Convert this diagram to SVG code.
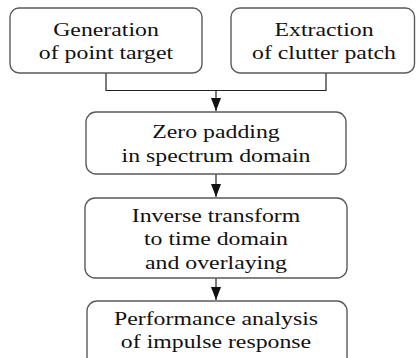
<svg xmlns="http://www.w3.org/2000/svg" width="416" height="358" viewBox="0 0 416 358" font-family="'Liberation Serif', 'DejaVu Serif', serif">
  <style>
    .box { fill: #ffffff; stroke: #5a5a5a; stroke-width: 1.4; }
    .lbl { font-family: 'Liberation Serif', 'DejaVu Serif', serif; font-size: 19.5px; fill: #111111; text-anchor: middle; }
    .wire { fill: none; stroke: #222222; stroke-width: 1.2; }
  </style>
  <defs>
    <marker id="tri" viewBox="0 0 13 10" refX="13" refY="5" markerWidth="13" markerHeight="10" orient="auto" markerUnits="userSpaceOnUse">
      <path d="M0,0 L13,5 L0,10 Z" fill="#111111"/>
    </marker>
  </defs>
  <rect width="416" height="358" fill="#ffffff"/>

  <!-- merge of the two source boxes, then the straight vertical chain -->
  <g id="connectors">
    <path class="wire" d="M106,73 V90.5 H326 V73"/>
    <path class="wire" d="M216,90.5 V111" marker-end="url(#tri)"/>
    <path class="wire" d="M216,174 V197" marker-end="url(#tri)"/>
    <path class="wire" d="M216,278 V300" marker-end="url(#tri)"/>
  </g>

  <g id="gen-point-target">
    <rect class="box" x="10" y="8" width="192" height="65" rx="9"/>
    <text class="lbl" transform="translate(106,35.5) scale(1.22,1)">Generation</text>
    <text class="lbl" transform="translate(106,59) scale(1.22,1)">of point target</text>
  </g>

  <g id="extract-clutter">
    <rect class="box" x="231" y="8" width="183.5" height="65" rx="9"/>
    <text class="lbl" transform="translate(324,35.5) scale(1.22,1)">Extraction</text>
    <text class="lbl" transform="translate(324,59) scale(1.22,1)">of clutter patch</text>
  </g>

  <g id="zero-padding">
    <rect class="box" x="86" y="112" width="260" height="62" rx="10"/>
    <text class="lbl" transform="translate(216,138) scale(1.22,1)">Zero padding</text>
    <text class="lbl" transform="translate(216,161.5) scale(1.22,1)">in spectrum domain</text>
  </g>

  <g id="inverse-transform">
    <rect class="box" x="85" y="198" width="262" height="80" rx="10"/>
    <text class="lbl" transform="translate(216,221.5) scale(1.22,1)">Inverse transform</text>
    <text class="lbl" transform="translate(216,245) scale(1.22,1)">to time domain</text>
    <text class="lbl" transform="translate(216,268.5) scale(1.22,1)">and overlaying</text>
  </g>

  <g id="performance-analysis">
    <rect class="box" x="87" y="301" width="260" height="70" rx="10"/>
    <text class="lbl" transform="translate(216,324.5) scale(1.22,1)">Performance analysis</text>
    <text class="lbl" transform="translate(216,348) scale(1.22,1)">of impulse response</text>
  </g>
</svg>
